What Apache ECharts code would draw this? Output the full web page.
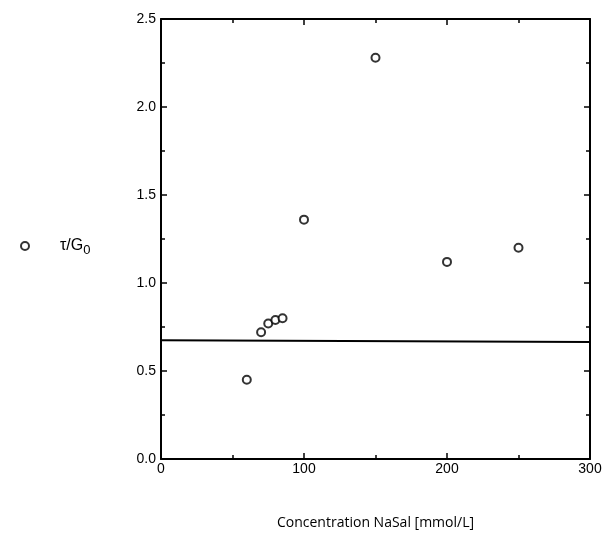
<!DOCTYPE html>
<html><head><meta charset="utf-8">
<script src="https://cdn.jsdelivr.net/npm/echarts@6/dist/echarts.min.js"></script>
<style>html,body{margin:0;padding:0;background:#fff}#c{width:605px;height:535px}</style>
</head><body><div id="c"></div>
<script>
var concentration = [60, 70, 75, 80, 85, 100, 150, 200, 250];
var tauOverG0 = [0.45, 0.72, 0.77, 0.79, 0.80, 1.36, 2.28, 1.12, 1.20];
var lineX = [0, 300];
var lineY = [0.675, 0.665];
var xName = 'Concentration NaSal [mmol/L]';
var seriesName = 'τ/G0';

var chart = echarts.init(document.getElementById('c'));
var narrow = 'Liberation Sans Narrow, Liberation Sans, sans-serif';
function ax(show) {
  return {
    axisLine: {show: true, onZero: false, lineStyle: {color: '#000', width: 2}},
    axisTick: {show: true, inside: true, length: 6, lineStyle: {color: '#000', width: 1.5}},
    minorTick: {show: true, splitNumber: 2, length: 4, lineStyle: {color: '#000', width: 1.5}},
    splitLine: {show: false},
    axisLabel: {show: show, color: '#000', fontFamily: narrow, fontSize: 14}
  };
}
var xb = Object.assign({type: 'value', min: 0, max: 300, interval: 100, position: 'bottom',
  name: xName, nameLocation: 'middle', nameGap: 57,
  nameTextStyle: {color: '#000', fontFamily: 'Open Sans', fontSize: 14}}, ax(true));
xb.axisLabel.margin = 3;
var xt = Object.assign({type: 'value', min: 0, max: 300, interval: 100, position: 'top'}, ax(false));
var yl = Object.assign({type: 'value', min: 0, max: 2.5, interval: 0.5, position: 'left'}, ax(true));
yl.axisLabel.formatter = function(v){return v.toFixed(1);};
yl.axisLabel.margin = 5;
var yr = Object.assign({type: 'value', min: 0, max: 2.5, interval: 0.5, position: 'right'}, ax(false));

chart.setOption({
  animation: false,
  backgroundColor: '#fff',
  grid: {left: 161, right: 15, top: 19, bottom: 76, outerBoundsMode: 'none', containLabel: false},
  legend: {
    left: 15, top: 233, orient: 'vertical', itemWidth: 8, itemHeight: 8, itemGap: 10,
    data: [{name: seriesName, icon: 'circle', itemStyle: {color: '#fff', borderColor: '#000', borderWidth: 2}}],
    formatter: function(){ return '{a|τ/G}{b|0}'; },
    textStyle: {padding: [0,0,0,26], rich: {
      a: {fontFamily: narrow, fontSize: 16, color: '#000'},
      b: {fontFamily: narrow, fontSize: 13, color: '#000', verticalAlign: 'bottom', padding: [9,0,0,0]}
    }}
  },
  xAxis: [xb, xt],
  yAxis: [yl, yr],
  series: [
    {type: 'scatter', name: seriesName, xAxisIndex: 0, yAxisIndex: 0, symbol: 'circle', symbolSize: 8,
     itemStyle: {color: '#fff', borderColor: '#000', borderWidth: 2},
     data: concentration.map(function(c,i){return [c, tauOverG0[i]];}), z: 5},
    {type: 'line', name: 'fit', xAxisIndex: 0, yAxisIndex: 0, symbol: 'none',
     lineStyle: {color: '#000', width: 2},
     data: lineX.map(function(x,i){return [x, lineY[i]];})}
  ]
});
</script></body></html>
